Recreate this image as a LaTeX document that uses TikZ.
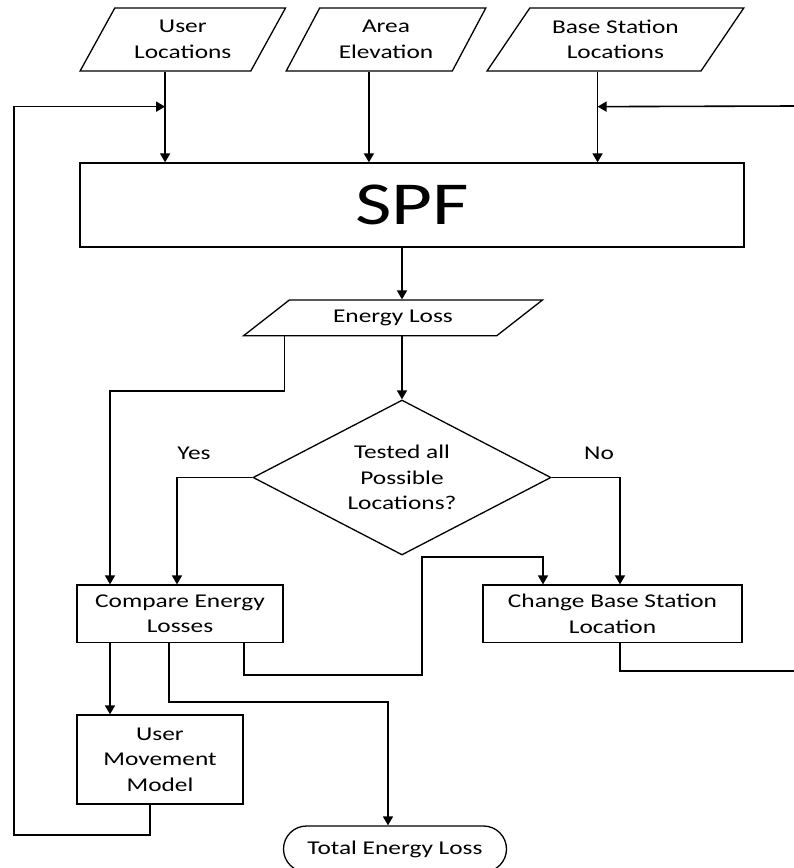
\documentclass[tikz,border=0pt]{standalone}
\usepackage{fontspec}
\setmainfont{Carlito}[FakeStretch=1.3]
\usetikzlibrary{shapes.geometric,shapes.misc,arrows.meta,calc}
\tikzset{
  base/.style={draw=black, line width=1.3pt, align=center, inner sep=0pt,
    font=\fontsize{19.5}{25.5}\selectfont},
  para/.style={base, trapezium, trapezium stretches=true,
    trapezium left angle=#1, trapezium right angle={180-#1}},
  box/.style={base, rectangle},
  conn/.style={line width=1.6pt, draw=black},
  arr/.style={conn, -{Triangle[width=10pt,length=9pt]}},
  lbl/.style={font=\fontsize{19.5}{25.5}\selectfont, inner sep=0pt}
}
\begin{document}
\begin{tikzpicture}[x=1pt,y=-1pt]
\useasboundingbox (0,0) rectangle (794,868);

% inputs
\node[para=57, minimum width=205.7, minimum height=63] (ul) at (182.8,39.5) {User\\Locations};
\node[para=58, minimum width=200, minimum height=63] (ae) at (386,39.5) {Area\\Elevation};
\node[para=51, minimum width=257.3, minimum height=63] (bs) at (615.4,39.5) {Base Station\\Locations};

% SPF
\node[box, minimum width=664, minimum height=84, font=\fontsize{61}{70}\selectfont] (spf) at (412,205) {SPF};

% Energy loss
\node[para=31, minimum width=299.4, minimum height=35.7] (el) at (393,317.9) {Energy Loss};

% decision
\node[base, diamond, aspect=1.92, minimum width=298, minimum height=155] (dia) at (402,477.5) {Tested all\\Possible\\Locations?};
\node[lbl] (yes) at (194,453) {Yes};
\node[lbl] (no) at (599,453) {No};

% process boxes
\node[box, minimum width=206, minimum height=57.7] (ce) at (180,613.9) {Compare Energy\\Losses};
\node[box, minimum width=259, minimum height=57.7] (cb) at (612.5,613.9) {Change Base Station\\Location};
\node[box, minimum width=166, minimum height=89] (um) at (160,759.5) {User\\Movement\\Model};
\node[base, rounded rectangle, minimum width=223, minimum height=46] (te) at (395,849) {Total Energy Loss};

% free ends at right edge
\coordinate (rin) at (794,106);
\coordinate (rout) at (794,671);

% inputs to SPF
\draw[arr] (ul.bottom side) -- (ul.bottom side |- spf.north);
\draw[arr] (ae.bottom side) -- (ae.bottom side |- spf.north);
\draw[arr] ([xshift=4]bs.bottom side) -- ([xshift=4]bs.bottom side |- spf.north);

% SPF -> energy loss -> decision
\draw[arr] (dia.north |- spf.south) -- (dia.north |- el.north);
\draw[arr] (dia.north |- el.south) -- (dia.north);

% energy loss -> compare
\draw[arr] ([xshift=43]el.bottom left corner) |- (110,391) -- ([xshift=-70]ce.north);

% decision branches
\draw[arr] (dia.west) -| ([xshift=-3]ce.north);
\draw[arr] (dia.east) -| ([xshift=7.5]cb.north);

% compare -> change base station
\draw[arr] ([xshift=64]ce.south) |- (421.7,675) |- (543,557) -- ([xshift=-69.5]cb.north);

% compare -> total
\draw[arr] ([xshift=-11]ce.south) |- (388,702) -- ([xshift=-7]te.north);

% compare -> user movement model
\draw[arr] ([xshift=-70]ce.south) -- ([xshift=-50]um.north);

% user movement feedback
\draw[arr] ([xshift=-10]um.south) |- (14,835) |- ($(ul.bottom side)+(0,35)$);

% change base station feedback
\draw[conn] ([xshift=7.5]cb.south) |- (rout);
\draw[arr] (rin) -- ($([xshift=4]bs.bottom side)+(0,35)$);
\end{tikzpicture}
\end{document}
